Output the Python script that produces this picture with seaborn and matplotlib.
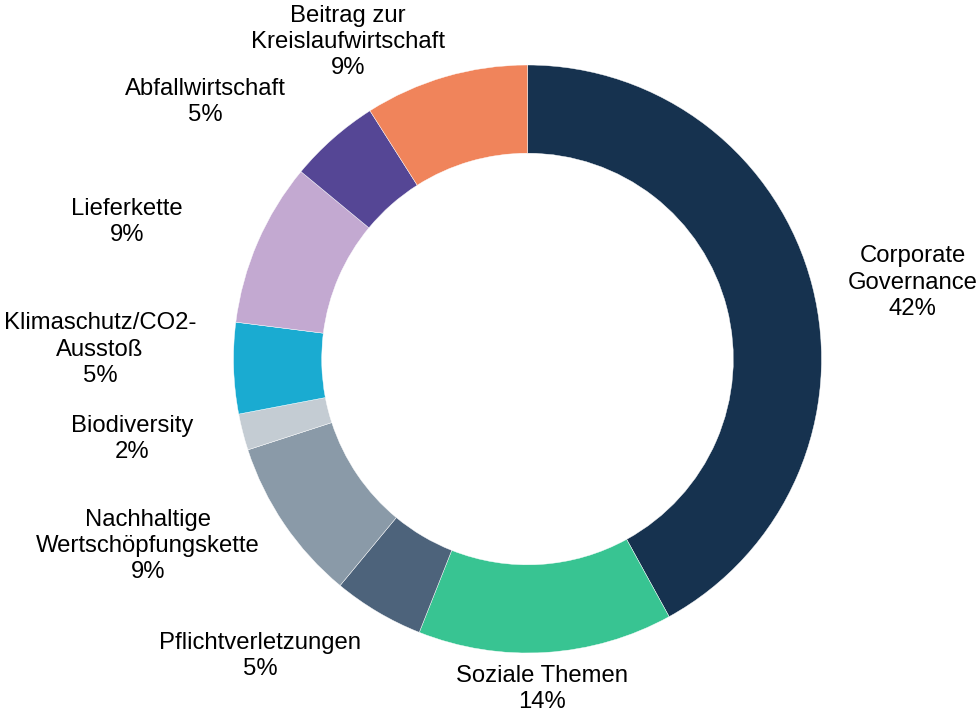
import matplotlib
matplotlib.use("Agg")
import matplotlib.pyplot as plt
import seaborn as sns

# ---- data ----
categories = ["Corporate\nGovernance", "Soziale Themen", "Pflichtverletzungen",
              "Nachhaltige\nWertschöpfungskette", "Biodiversity",
              "Klimaschutz/CO2-\nAusstoß", "Lieferkette", "Abfallwirtschaft",
              "Beitrag zur\nKreislaufwirtschaft"]
shares = [42, 14, 5, 9, 2, 5, 9, 5, 9]
colors = ["#16324F", "#38C492", "#4D637B", "#8A9AA8", "#C4CCD3",
          "#1AABD1", "#C3A9D1", "#554695", "#F0845B"]

# label centres (data units, ring radius = 1)
label_x = [1.311, 0.049, -0.910, -1.291, -1.345, -1.454, -1.362, -1.097, -0.610]
label_y = [0.259, -1.122, -1.010, -0.636, -0.272, 0.031, 0.466, 0.874, 1.078]

sns.set_style("white")
plt.rcParams["font.family"] = ["Liberation Sans", "DejaVu Sans"]

fig = plt.figure(figsize=(9.79, 7.13), dpi=100)
ax = fig.add_axes([0, 0, 1, 1])

palette = sns.color_palette(colors)
ax.pie(shares, colors=palette, startangle=90, counterclock=False, radius=1,
       wedgeprops=dict(width=0.30, edgecolor="white", linewidth=0.3))

for name, val, x, y in zip(categories, shares, label_x, label_y):
    ax.text(x, y, f"{name}\n{val}%", ha="center", va="center",
            multialignment="center", fontsize=17.2, color="black",
            linespacing=1.26)

ax.set_aspect("auto")
ax.set_xlim(-527.5 / 294, (979 - 527.5) / 294)
ax.set_ylim((359 - 713) / 294, 359 / 294)
ax.axis("off")

fig.savefig("out.png", dpi=100)
